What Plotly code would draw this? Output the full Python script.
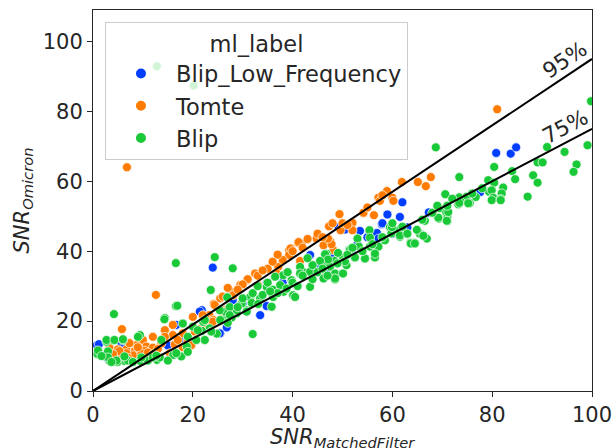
import math
import plotly.graph_objects as go

# ---- data ----
blue_x = [0.8, 1.2, 5.7, 3.0, 80.8, 83.7, 84.8, 77.6, 62.0, 61.5, 57.9, 53.5, 56.9, 50.5, 49.2, 67.3,
          63.0, 51.8, 57.2, 45.8, 24.0, 34.8, 33.5, 26.8, 25.5, 43.5, 45.2, 46.8, 34.8, 21.8, 16.7, 21.4,
          25.4, 30, 28, 35, 38, 42, 44, 48, 53, 55, 58, 59, 60, 12, 8, 15, 18, 22, 19, 10]
blue_y = [13.1, 13.4, 13.6, 9.2, 68.1, 67.9, 69.7, 56.9, 54.0, 49.8, 47.7, 45.8, 45.2, 46.2, 46.9, 51.1,
          46.8, 39.5, 43.6, 33.6, 35.3, 24.3, 21.7, 18.2, 16.5, 38.9, 35.5, 33.6, 30.8, 23.1, 18.9, 22.7,
          16.5, 25, 26, 29, 31, 34, 36, 38.5, 42, 44, 48, 50.5, 45, 12, 9, 13, 15, 18, 13.5, 10.5]

orange_x = [6.8, 81.0, 12.6, 5.8,
            67.7, 66.7, 65.1, 61.9, 58.9, 57.2, 60.0, 60.2, 57.5, 54.2, 56.3, 49.4, 52.0, 47.3, 49.6,
            47.6, 48.2, 46.2, 54.2, 52, 44.8, 41.1, 39.3, 39.3, 41.8, 41.2, 39.6, 41.5, 47.8, 47.1,
            38.8, 37.1, 36.7, 32.5, 30.8, 33.1, 29.5, 27.8, 28.1, 25.5, 24.2, 23.3, 24.1, 22.5,
            31, 33, 35, 36, 34, 30, 29, 27, 26, 38, 37, 40, 42, 43, 45, 46, 48, 50, 51, 55, 58,
            3.3, 5.0, 6.7, 8.4, 5.0, 8.0, 10.0, 10.7, 12.0, 10.4, 12.0, 13.7, 14.4, 16.0, 16.4, 15.4,
            18.0, 19.0, 20.0, 20.4, 21.7, 22.0, 24.4, 24.0, 26.0, 26.4, 8.7, 6.7, 5.3, 9.7, 7.3, 16.4,
            17.0, 18.0, 14.4, 19.7, 22.7, 16.0, 11, 13, 9, 4, 7, 12]
orange_y = [64.0, 80.6, 27.5, 17.7,
            61.2, 58.6, 59.8, 59.8, 57.2, 55.3, 55.3, 54.4, 54.4, 50.9, 50.3, 50.6, 48.1, 47.1, 46.0,
            42.7, 40.3, 41.7, 51.0, 46, 43.6, 42.4, 40.3, 38.9, 42.2, 42.6, 40.8, 37.2, 42.0, 43.6,
            33.8, 35.5, 33.8, 33.6, 31.7, 30.3, 30.3, 28.4, 27.4, 26.5, 24.9, 21.7, 20.3, 21.0,
            32, 33, 35, 37, 34.5, 30.5, 29, 29.5, 27, 37.5, 39, 40, 41, 43.5, 45, 44, 48, 48, 47.5, 52.5, 56,
            12.4, 11.9, 11.9, 11.5, 9.6, 10.2, 14.6, 12.7, 15.5, 11.5, 12.4, 13.6, 17.4, 16.0, 13.3, 10.8,
            16.5, 14.4, 21.2, 17.0, 17.9, 21.7, 24.6, 19.8, 20.8, 23.1, 13.1, 10.8, 11.4, 10.8, 13.7, 10.8,
            14.6, 12.5, 15.5, 13.1, 18.3, 18.9, 11, 12, 12.5, 10.5, 9.5, 10.5]

green_x = [12.8, 20.2, 68.7, 99.8, 16.6, 24.4, 28.0, 23.6, 16.6, 14.4, 4.2, 32.0,
           73.4, 80.4, 79.2, 80.4, 84.0, 84.6, 82.2, 81.9, 79.4, 89.1, 90.1, 91.0, 88.2, 89.1, 94.5,
           96.9, 96.3, 99.1, 70.6, 73.4, 74.9, 76.7, 87.1, 73.7, 75.5, 79.9, 80.2, 81.7, 69.5, 70.8, 71.0,
           69.3, 71.0, 71.2, 73.2, 66.5, 65.5, 66.9, 64.9, 64.3, 63.6, 61.5, 61.3, 59.5, 59.8, 55.4, 55.5,
           53.0, 53.3, 55.5, 57.2, 51.4, 56.5, 54.5, 52.5, 50.1, 49.1, 48.4, 50.8, 46.8, 46.5, 47.5, 48.5,
           50.1, 46.5, 48.5,
           63.7, 64.5, 66.2, 69.2, 70.9, 73.4, 75.2, 79.9, 81.7, 59.9, 61.5, 58.5, 56.5, 54.5, 51.5, 50.5,
           48.5, 46.2, 43.5, 42.1, 40.1, 38.2, 35.8, 30.8, 28.8, 26.1, 24.8, 22.4, 18.8, 16.1, 12.8, 9.4,
           6.3, 3.3, 4.9, 0.9, 2.7, 4.1, 6.0, 9.1, 14.3, 16.9,
           46.5, 47.1, 45.5, 41.5, 43.5, 48.5, 41.5, 39.8, 38.1, 36.5, 34.8, 37.5, 38.8, 40.5, 36.1, 33.5,
           31.5, 31.8, 29.8, 28.8, 30.8, 33.1, 27.8, 25.5, 23.4, 22.1, 21.8, 22.4, 26.5, 25.4, 27.0,
           2.7, 4.3, 6.0, 1.0, 3.0, 3.0, 4.7, 9.4, 9.0, 11.0, 12.0, 13.4, 13.7, 15.0, 18.0, 20.0, 22.4,
           23.7, 27.4, 27.4, 3.7, 7.0, 6.3, 9.7, 8.0, 1.7, 17.7, 16.7, 19.0, 20.7, 21.0, 19.0, 12.7, 26.9,
           32, 34, 35, 36, 39, 40, 42, 44, 45, 43, 44, 37, 33, 30, 29, 35.5, 41, 46, 47, 49, 51, 52, 54,
           56, 58, 60, 62, 63, 66, 68, 69, 71, 72, 76, 78]
green_y = [92.9, 87.4, 69.7, 82.9, 36.6, 38.3, 35.1, 28.9, 24.3, 20.9, 22.0, 16.3,
           61.2, 64.1, 60.3, 59.6, 62.9, 60.6, 58.2, 56.5, 57.0, 65.4, 65.4, 69.8, 61.7, 59.6, 68.4,
           64.8, 62.7, 70.3, 56.3, 55.4, 55.6, 55.5, 55.6, 54.1, 53.7, 57.4, 55.3, 54.9, 52.3, 51.1, 49.6,
           49.3, 48.6, 51.2, 53.4, 48.7, 45.0, 43.6, 46.1, 42.4, 42.4, 44.1, 46.0, 46.9, 45.1, 46.0, 43.9,
           43.6, 41.3, 41.3, 41.3, 40.5, 38.2, 37.9, 38.2, 38.4, 39.5, 37.2, 36.0, 39.3, 36.5, 35.6, 33.6,
           33.6, 32.8, 32.1,
           42.2, 42.2, 44.4, 49.6, 48.7, 53.8, 53.7, 54.6, 54.6, 46.9, 44.5, 43.1, 39.3, 37.9, 40.3, 37.1,
           31.9, 32.2, 29.8, 34.1, 27.4, 28.4, 24.1, 23.1, 22.2, 20.3, 16.4, 14.6, 12.7, 10.3, 8.9, 8.6,
           8.6, 8.6, 8.3, 10.6, 14.1, 14.5, 14.5, 15.7, 20.5, 24.4,
           39.1, 37.6, 37.2, 35.5, 34.1, 32.2, 33.6, 31.7, 33.1, 32.7, 29.8, 30.3, 29.3, 26.9, 26.9, 26.5,
           26.9, 25.2, 25.0, 23.1, 22.7, 24.9, 21.0, 20.3, 17.9, 19.8, 17.2, 14.6, 22.7, 23.1, 19.5,
           14.6, 14.6, 14.8, 11.6, 11.3, 9.6, 8.7, 16.0, 15.5, 8.7, 9.6, 9.6, 14.6, 8.7, 19.3, 18.4, 20.3,
           17.0, 24.0, 21.7, 8.3, 8.7, 9.9, 9.6, 8.3, 10.0, 9.9, 10.8, 11.2, 14.6, 17.4, 15.5, 10.1, 26.8,
           28, 27.5, 31, 29, 34, 31, 33, 36, 34, 38, 32, 28, 30, 26.5, 24, 28.5, 30, 35, 33, 36.5, 39, 41, 40,
           42, 44, 48, 47, 45, 49, 51, 53, 53, 55, 56.5, 58]

ref_fractions = [0.95, 0.75]
ref_labels = ["95%", "75%"]
line_x = [0, 100]
tick_vals = [0, 20, 40, 60, 80, 100]

series = [
    ("Blip_Low_Frequency", blue_x, blue_y, "#023eff"),
    ("Tomte", orange_x, orange_y, "#ff7c00"),
    ("Blip", green_x, green_y, "#1ac938"),
]

FONT = "DejaVu Sans"
TXT = "#262626"

fig = go.Figure()
for name, xs, ys, col in series:
    fig.add_trace(go.Scatter(
        x=xs, y=ys, mode="markers", name=name,
        marker=dict(color=col, size=9, line=dict(color="white", width=0.7)),
    ))

for frac, lab in zip(ref_fractions, ref_labels):
    fig.add_trace(go.Scatter(
        x=line_x, y=[v * frac for v in line_x], mode="lines",
        line=dict(color="black", width=2), showlegend=False, hoverinfo="skip",
    ))

W, H = 614, 448
ml, mr, mt, mb = 93, 22, 10, 57
xr = [0, 100]
yr = [0, 109]
pw, ph = W - ml - mr, H - mt - mb
for frac, lab in zip(ref_fractions, ref_labels):
    ang = math.degrees(math.atan(frac * (ph / (yr[1] - yr[0])) / (pw / (xr[1] - xr[0]))))
    xa = 94.6
    fig.add_annotation(
        x=xa, y=xa * frac, text=lab, showarrow=False, textangle=-ang,
        yshift=17, font=dict(family=FONT, size=21.5, color=TXT),
    )

# axis titles as annotations (fixed pixel placement)
fig.add_annotation(
    xref="paper", yref="paper", x=0.5, y=-(438 - (H - mb)) / ph, yanchor="middle",
    text="<i>SNR</i><sub><i>MatchedFilter</i></sub>", showarrow=False,
    font=dict(family=FONT, size=21, color=TXT),
)
fig.add_annotation(
    xref="paper", yref="paper", x=(22 - ml) / pw, y=0.5, xanchor="center", yanchor="middle",
    text="<i>SNR</i><sub><i>Omicron</i></sub>", showarrow=False, textangle=-90,
    font=dict(family=FONT, size=21, color=TXT),
)

fig.update_layout(
    width=W, height=H,
    margin=dict(l=ml, r=mr, t=mt, b=mb, autoexpand=False),
    paper_bgcolor="white", plot_bgcolor="white",
    font=dict(family=FONT, size=21, color=TXT),
    showlegend=True,
    legend=dict(
        x=0.024, y=0.968, xanchor="left", yanchor="top",
        bgcolor="rgba(255,255,255,0.8)", bordercolor="#cccccc", borderwidth=1,
        title=dict(text="ml_label", side="top center", font=dict(size=22.5)),
        font=dict(size=22.5), itemsizing="constant", tracegroupgap=2, itemwidth=60,
    ),
)
fig.update_xaxes(
    range=xr, tickvals=tick_vals, showgrid=False, zeroline=False, automargin=False,
    showline=True, linecolor=TXT, linewidth=1, mirror=True,
    ticks="outside", ticklen=5, tickcolor=TXT, tickfont=dict(size=21),
)
fig.update_yaxes(
    range=yr, tickvals=tick_vals, showgrid=False, zeroline=False, automargin=False,
    showline=True, linecolor=TXT, linewidth=1, mirror=True,
    ticks="outside", ticklen=5, tickcolor=TXT, tickfont=dict(size=21),
)

fig.write_html(
    "out.html",
    config={"displayModeBar": False},
    post_script="document.body.style.margin='0';document.body.style.overflow='hidden';",
)
